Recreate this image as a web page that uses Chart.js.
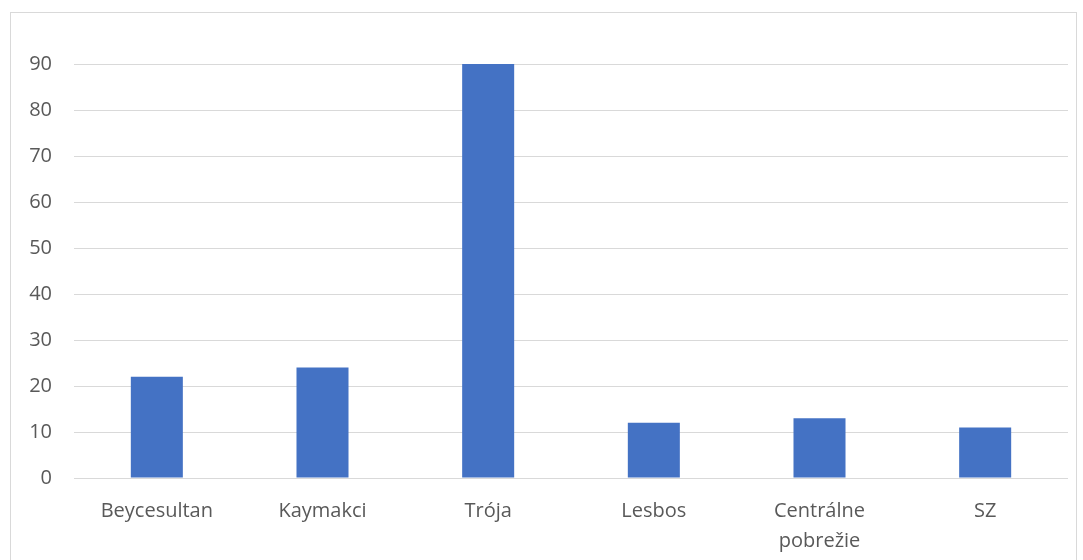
<!DOCTYPE html>
<html>
<head>
<meta charset="utf-8">
<script src="https://cdn.jsdelivr.net/npm/chart.js@4"></script>
<style>
    html, body { margin: 0; padding: 0; background: #fff; }
    #wrap { position: relative; width: 1083px; height: 560px; }
    #frame { position: absolute; left: 10px; top: 12px; width: 1065px; height: 600px; border: 1px solid #d9d9d9; pointer-events: none; }
</style>
</head>
<body>
<div id="wrap">
    <canvas id="sites" width="1083" height="560"></canvas>
    <div id="frame"></div>
</div>
<script>
var siteNames = ['Beycesultan', 'Kaymakci', 'Trója', 'Lesbos', ['Centrálne', 'pobrežie'], 'SZ'];
var siteCounts = [22, 24, 90, 12, 13, 11];
var yTicks = [0, 10, 20, 30, 40, 50, 60, 70, 80, 90];

var sitesChart = new Chart(document.getElementById("sites"), {
    type: 'bar',
    data: {
        labels: siteNames,
        datasets: [{
            label: 'Počet',
            data: siteCounts,
            backgroundColor: '#4472c4',
            borderWidth: 0,
            categoryPercentage: 1,
            barPercentage: 0.314
        }]
    },
    options: {
        responsive: false,
        animation: false,
        layout: {
            padding: { top: 64, right: 15, bottom: 0, left: 0 }
        },
        plugins: {
            legend: { display: false },
            tooltip: { enabled: false }
        },
        scales: {
            x: {
                grid: { display: false },
                border: { display: false },
                ticks: {
                    color: '#595959',
                    font: { family: 'Open Sans', size: 20, lineHeight: 1.5 },
                    padding: 10,
                    maxRotation: 0
                },
                afterFit: function (s) { s.height = 82; }
            },
            y: {
                min: 0,
                max: 90,
                afterBuildTicks: function (s) { s.ticks = yTicks.map(function (v) { return { value: v }; }); },
                grid: { color: '#d9d9d9', lineWidth: 1, drawTicks: false },
                border: { display: false },
                ticks: {
                    color: '#595959',
                    font: { family: 'Open Sans', size: 20 },
                    padding: 22
                },
                afterFit: function (s) { s.width = 74; }
            }
        }
    }
});
</script>
</body>
</html>
